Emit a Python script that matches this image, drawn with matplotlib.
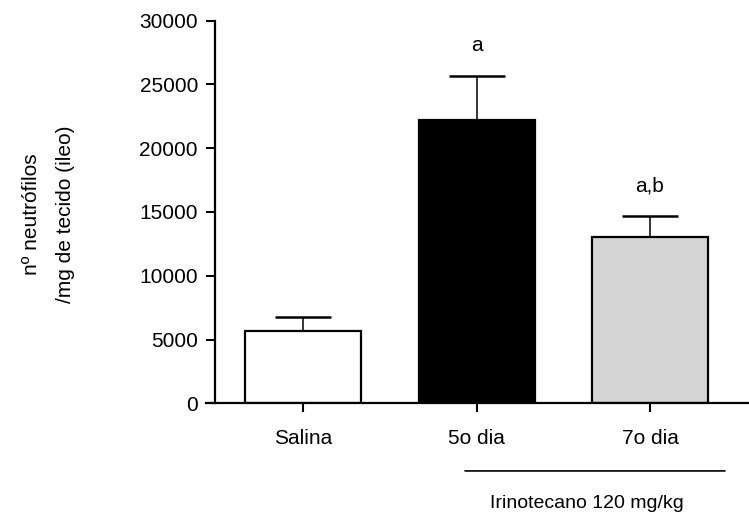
import matplotlib
matplotlib.use("Agg")
import matplotlib.pyplot as plt

categories = ["Salina", "5o dia", "7o dia"]
means = [5700, 22240, 13050]
errors = [1030, 3460, 1670]
colors = ["white", "black", "#d4d4d4"]
letters = ["", "a", "a,b"]
yticks = [0, 5000, 10000, 15000, 20000, 25000, 30000]
ylabel = "nº neutrófilos\n/mg de tecido (ileo)"
group_label = "Irinotecano 120 mg/kg"

plt.rcParams['font.family'] = ['Liberation Sans', 'DejaVu Sans']
FS = 15
fig = plt.figure(figsize=(7.49, 5.15), dpi=100)
ax = fig.add_axes([0.2875, 0.2169, 0.7112, 0.7429])

x = list(range(len(categories)))
ax.bar(x, means, width=0.67, color=colors, edgecolor="black", linewidth=1.6, zorder=2)
ax.errorbar(x, means, yerr=[[0] * len(errors), errors], fmt="none", ecolor="black",
            elinewidth=1.1, capsize=20.5, capthick=1.8, zorder=1)

for xi, m, e, t in zip(x, means, errors, letters):
    if t:
        ax.text(xi, m + e + 1900, t, ha="center", va="baseline", fontsize=FS)

ax.set_xlim(-0.508, 2.566)
ax.set_ylim(0, 30000)
ax.set_yticks(yticks)
ax.set_yticklabels([str(v) for v in yticks])
ax.set_xticks(x)
ax.set_xticklabels(categories)
ax.tick_params(axis="both", labelsize=FS, width=1.5, length=6.5, color="black")
ax.tick_params(axis="x", pad=12)
ax.tick_params(axis="y", pad=6)
ax.spines["top"].set_visible(False)
ax.spines["right"].set_visible(False)
ax.spines["left"].set_linewidth(1.6)
ax.spines["bottom"].set_linewidth(1.6)
ax.spines["bottom"].set_bounds(-0.56, 2.566)

fig.text(49 / 749, 1 - 214 / 515, ylabel, rotation=90, ha="center", va="center",
         fontsize=FS, linespacing=2.0, multialignment="center")

# group line below 5o dia / 7o dia
ax.annotate("", xy=(0.933, -0.1768), xytext=(2.433, -0.1768), xycoords=("data", "axes fraction"),
            arrowprops=dict(arrowstyle="-", lw=1.2, color="black", shrinkA=0, shrinkB=0),
            annotation_clip=False)
ax.text(1.637, -0.263, group_label, transform=ax.get_xaxis_transform(),
        ha="center", va="center", fontsize=14)

fig.savefig("out.png", dpi=100)
